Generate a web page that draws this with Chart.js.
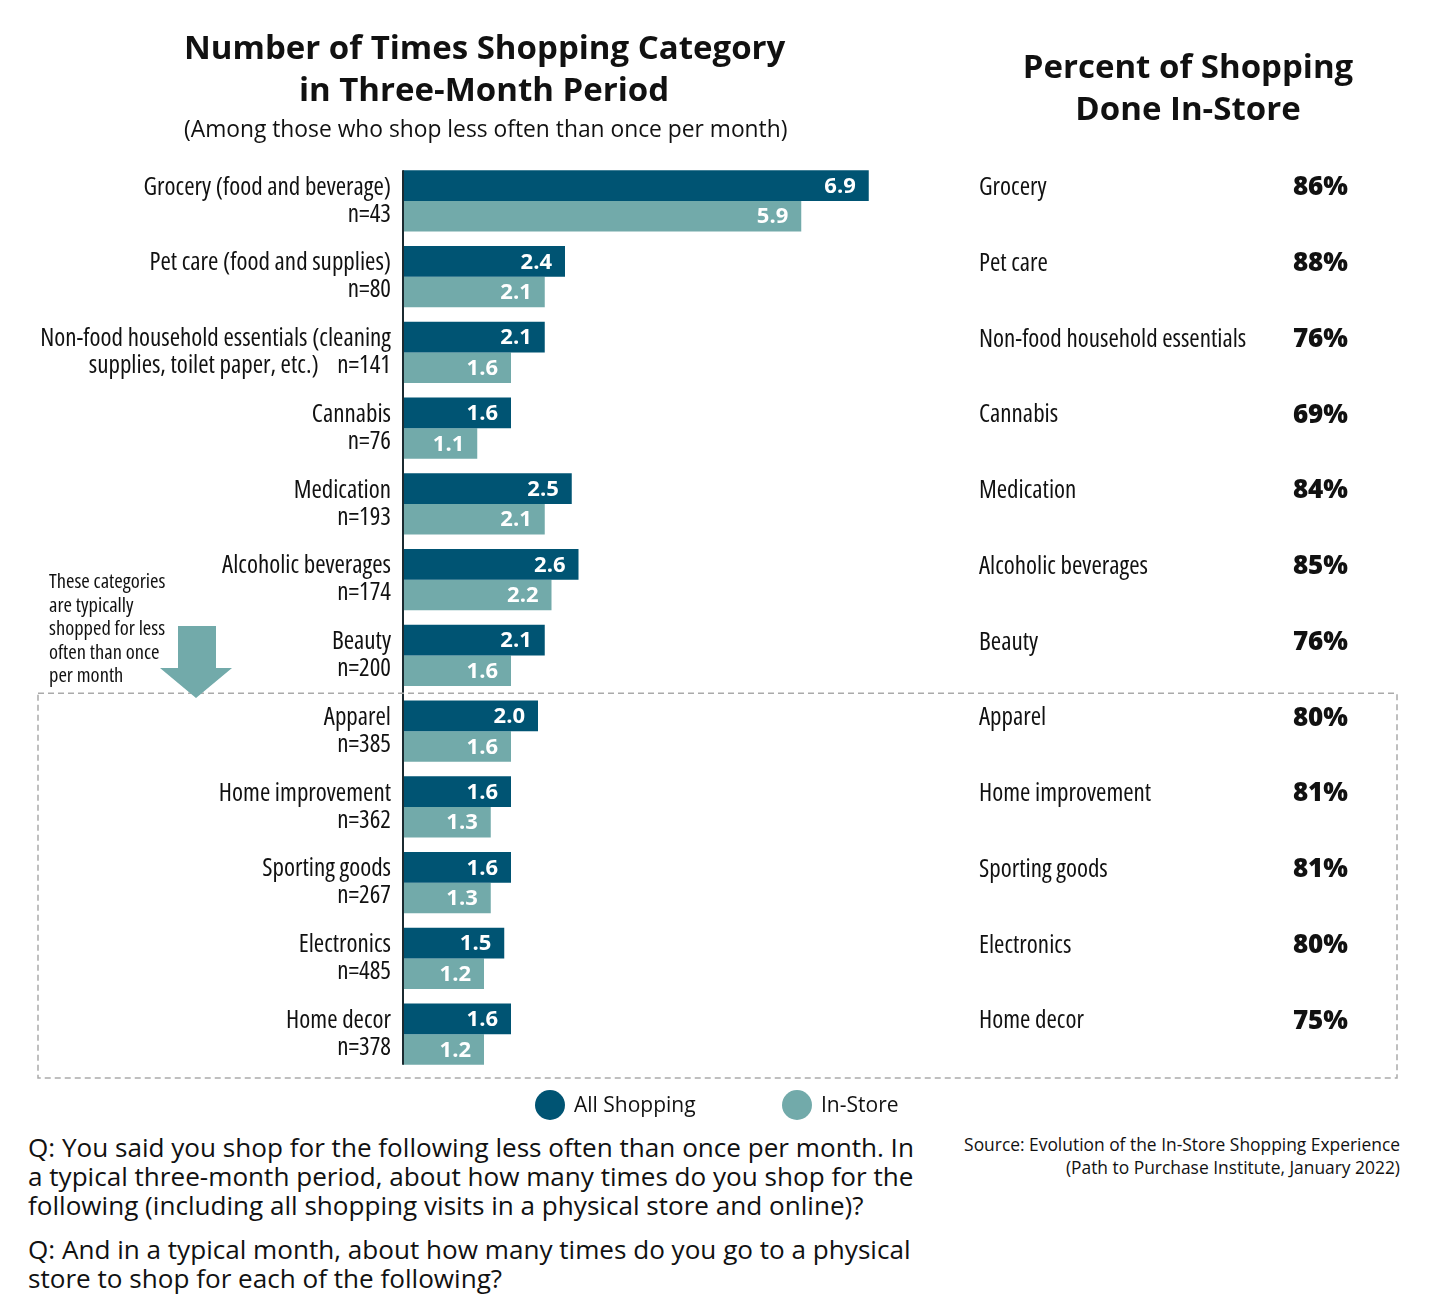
<!DOCTYPE html>
<html>
<head>
<meta charset="utf-8">
<script src="https://cdn.jsdelivr.net/npm/chart.js@4"></script>
<style>
  html, body { margin:0; padding:0; background:#fff; }
  body { width:1440px; height:1309px; position:relative; overflow:hidden; font-family: "Open Sans", Lato, sans-serif; color:#111; }
  #wrap { position:absolute; left:0; top:0; width:1440px; height:1103px; }
  .t { position:absolute; white-space:nowrap; }
  .title { font-weight:700; font-size:33px; text-align:center; line-height:42px; }
  .cond { font-family: "Open Sans", sans-serif; font-stretch: condensed; }
</style>
</head>
<body>
<div id="wrap"><canvas id="c" width="1440" height="1103"></canvas></div>

<div class="t title" style="left:184px; width:600px; top:26px;">Number of Times Shopping Category<br>in Three-Month Period</div>
<div class="t" style="left:184px; width:600px; top:114px; text-align:center; font-size:22.8px; line-height:30px;">(Among those who shop less often than once per month)</div>
<div class="t title" style="left:988px; width:400px; top:45px;">Percent of Shopping<br>Done In-Store</div>

<div class="t cond" style="left:49px; top:569px; font-size:20.5px; line-height:23.5px;">These categories<br>are typically<br>shopped for less<br>often than once<br>per month</div>
<svg class="t" style="left:0; top:0;" width="300" height="720">
  <polygon points="178,626 216,626 216,668 232,668 196,698 160,668 178,668" fill="#72AAAA"/>
</svg>

<div class="t" style="left:535px; top:1090px; width:30px; height:30px; border-radius:50%; background:#005473;"></div>
<div class="t" style="left:574px; top:1089px; font-size:21px; line-height:30px;">All Shopping</div>
<div class="t" style="left:782px; top:1090px; width:30px; height:30px; border-radius:50%; background:#72AAAA;"></div>
<div class="t" style="left:821px; top:1089px; font-size:21px; line-height:30px;">In-Store</div>

<div class="t" style="left:28px; top:1133px; font-size:26.1px; line-height:29px;">Q: You said you shop for the following less often than once per month. In<br>a typical three-month period, about how many times do you shop for the<br>following (including all shopping visits in a physical store and online)?</div>
<div class="t" style="left:28px; top:1235px; font-size:26.1px; line-height:29px;">Q: And in a typical month, about how many times do you go to a physical<br>store to shop for each of the following?</div>
<div class="t" style="right:40px; top:1133px; font-size:17.4px; line-height:23px; text-align:right;">Source: Evolution of the In-Store Shopping Experience<br>(Path to Purchase Institute, January 2022)</div>

<script>
const categoryLabels = [
  ['Grocery (food and beverage)', 'n=43'],
  ['Pet care (food and supplies)', 'n=80'],
  ['Non-food household essentials (cleaning', 'supplies, toilet paper, etc.)    n=141'],
  ['Cannabis', 'n=76'],
  ['Medication', 'n=193'],
  ['Alcoholic beverages', 'n=174'],
  ['Beauty', 'n=200'],
  ['Apparel', 'n=385'],
  ['Home improvement', 'n=362'],
  ['Sporting goods', 'n=267'],
  ['Electronics', 'n=485'],
  ['Home decor', 'n=378']
];
const shortNames = ['Grocery','Pet care','Non-food household essentials','Cannabis','Medication','Alcoholic beverages','Beauty','Apparel','Home improvement','Sporting goods','Electronics','Home decor'];
const allShopping = [6.9, 2.4, 2.1, 1.6, 2.5, 2.6, 2.1, 2.0, 1.6, 1.6, 1.5, 1.6];
const inStore     = [5.9, 2.1, 1.6, 1.1, 2.1, 2.2, 1.6, 1.6, 1.3, 1.3, 1.2, 1.2];
const pctInStore  = ['86%','88%','76%','69%','84%','85%','76%','80%','81%','81%','80%','75%'];
const seriesNames = ['All Shopping', 'In-Store'];

const DARK = '#005473', TEAL = '#72AAAA';

const extras = {
  id: 'extras',
  afterDatasetsDraw(chart) {
    const ctx = chart.ctx;
    const y = chart.scales.y;
    ctx.save();
    // axis line spanning the bars
    const first = chart.getDatasetMeta(0).data[0];
    const lastMeta = chart.getDatasetMeta(1).data;
    const last = lastMeta[lastMeta.length - 1];
    ctx.strokeStyle = '#1b2a30';
    ctx.lineWidth = 2;
    ctx.beginPath();
    ctx.moveTo(chart.chartArea.left, first.y - first.height / 2);
    ctx.lineTo(chart.chartArea.left, last.y + last.height / 2);
    ctx.stroke();
    // value labels
    ctx.fillStyle = '#fff';
    ctx.font = 'bold 22px "Open Sans", sans-serif';
    ctx.textAlign = 'right';
    ctx.textBaseline = 'middle';
    chart.data.datasets.forEach((ds, di) => {
      chart.getDatasetMeta(di).data.forEach((bar, i) => {
        ctx.fillText(ds.data[i].toFixed(1), bar.x - 13, bar.y + 1);
      });
    });
    // right column
    shortNames.forEach((n, i) => {
      const py = y.getPixelForValue(i) - 13;
      ctx.fillStyle = '#111';
      ctx.textAlign = 'left';
      ctx.font = 'condensed 25px "Open Sans", sans-serif';
      ctx.fillText(n, 979, py);
      ctx.textAlign = 'right';
      ctx.font = '800 26px "Open Sans", sans-serif';
      ctx.fillText(pctInStore[i], 1348, py);
    });
    // dashed box
    const top = (y.getPixelForValue(6) + y.getPixelForValue(7)) / 2;
    const bottom = chart.chartArea.bottom + 6;
    ctx.strokeStyle = '#aaa';
    ctx.lineWidth = 1.5;
    ctx.setLineDash([6, 4]);
    ctx.strokeRect(38, top, 1397 - 38, bottom - top);
    ctx.restore();
  }
};

new Chart(document.getElementById('c'), {
  type: 'bar',
  data: {
    labels: categoryLabels,
    datasets: [
      { label: seriesNames[0], data: allShopping, backgroundColor: DARK },
      { label: seriesNames[1], data: inStore, backgroundColor: TEAL }
    ]
  },
  options: {
    indexAxis: 'y',
    responsive: false,
    animation: false,
    devicePixelRatio: 1,
    categoryPercentage: 0.806,
    barPercentage: 1.0,
    layout: { padding: { top: 163, bottom: 0, right: 1440 - (403 + 67.5 * 8), left: 0 } },
    plugins: { legend: { display: false }, tooltip: { enabled: false } },
    scales: {
      x: { display: false, min: 0, max: 8 },
      y: {
        grid: { display: false },
        border: { display: false },
        ticks: { color: '#111', padding: 4, font: { family: '"Open Sans", sans-serif', weight: 'condensed', size: 25, lineHeight: 1.08 } },
        afterFit(s) { s.width = 403; }
      }
    }
  },
  plugins: [extras]
});
</script>
</body>
</html>
